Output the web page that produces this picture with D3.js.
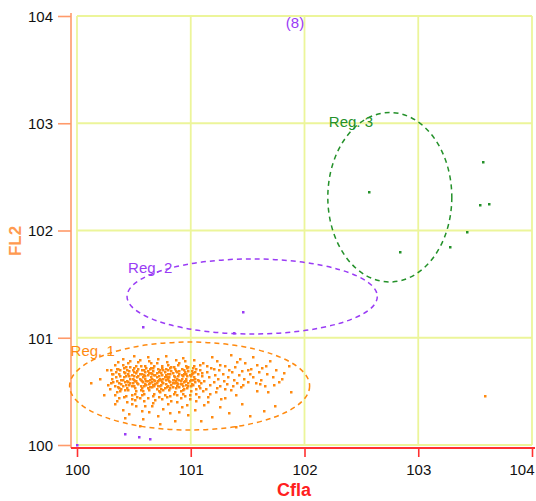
<!DOCTYPE html>
<html>
<head>
<meta charset="utf-8">
<script src="https://cdn.jsdelivr.net/npm/d3@7"></script>
<style>
  html, body { margin: 0; padding: 0; background: #fff; }
  svg { display: block; font-family: "Liberation Sans", Arial, sans-serif; }
</style>
</head>
<body>
<div id="chart"></div>
<script>
const width = 536;
const height = 501;

const tickValues = [100, 101, 102, 103, 104];
const xTitle = "Cfla";
const yTitle = "FL2";
const countLabel = "(8)";

// gates (data units): centre and radii
const regionNames = ["Reg. 1", "Reg. 2", "Reg. 3"];
const regionCx = [100.99, 101.54, 102.75];
const regionCy = [100.55, 101.385, 102.31];
const regionRx = [1.055, 1.10, 0.545];
const regionRy = [0.41, 0.35, 0.79];
const regionColors = ["#ff8a10", "#9a3cf5", "#24912a"];

// events, [Cfla, FL2]
const reg1Points = [
  [100.31,100.62],[100.33,100.55],[100.34,100.68],[100.35,100.49],[100.36,100.71],[100.37,100.58],[100.38,100.64],[100.39,100.52],[100.40,100.75],[100.40,100.61],
  [100.41,100.45],[100.42,100.67],[100.43,100.56],[100.44,100.70],[100.44,100.60],[100.45,100.51],[100.46,100.64],[100.47,100.58],[100.47,100.73],[100.48,100.47],
  [100.49,100.62],[100.50,100.55],[100.50,100.68],[100.51,100.60],[100.52,100.50],[100.52,100.74],[100.53,100.63],[100.54,100.57],[100.55,100.66],[100.55,100.44],
  [100.56,100.61],[100.57,100.53],[100.57,100.70],[100.58,100.59],[100.59,100.65],[100.59,100.48],[100.60,100.62],[100.61,100.56],[100.61,100.72],[100.62,100.60],
  [100.63,100.51],[100.63,100.67],[100.64,100.58],[100.65,100.63],[100.65,100.76],[100.66,100.54],[100.67,100.69],[100.67,100.46],[100.68,100.61],[100.69,100.57],
  [100.69,100.65],[100.70,100.52],[100.71,100.71],[100.71,100.60],[100.72,100.64],[100.73,100.55],[100.73,100.49],[100.74,100.67],[100.75,100.59],[100.75,100.74],
  [100.76,100.62],[100.77,100.53],[100.77,100.68],[100.78,100.57],[100.79,100.63],[100.79,100.45],[100.80,100.70],[100.81,100.60],[100.81,100.51],[100.82,100.66],
  [100.83,100.56],[100.83,100.73],[100.84,100.61],[100.85,100.48],[100.85,100.64],[100.86,100.58],[100.87,100.69],[100.87,100.53],[100.88,100.62],[100.89,100.75],
  [100.89,100.57],[100.90,100.66],[100.91,100.50],[100.91,100.60],[100.92,100.71],[100.93,100.55],[100.93,100.64],[100.94,100.59],[100.95,100.68],[100.95,100.46],
  [100.96,100.62],[100.97,100.53],[100.97,100.72],[100.98,100.58],[100.99,100.65],[101.00,100.61],[101.00,100.50],[101.01,100.69],[101.02,100.56],[101.03,100.63],
  [101.03,100.74],[101.04,100.59],[101.05,100.52],[101.06,100.66],[101.06,100.61],[101.07,100.55],[101.08,100.70],[101.09,100.58],[101.10,100.64],
  [100.30,100.58],[100.32,100.66],[100.35,100.60],[100.36,100.54],[100.38,100.70],[100.39,100.57],[100.41,100.63],[100.42,100.51],[100.43,100.73],[100.45,100.59],
  [100.46,100.69],[100.48,100.55],[100.48,100.65],[100.50,100.61],[100.51,100.48],[100.53,100.69],[100.53,100.58],[100.54,100.64],[100.56,100.55],[100.56,100.74],
  [100.58,100.63],[100.58,100.50],[100.60,100.68],[100.60,100.57],[100.62,100.65],[100.62,100.53],[100.64,100.71],[100.64,100.61],[100.66,100.59],[100.66,100.66],
  [100.68,100.55],[100.68,100.74],[100.70,100.63],[100.70,100.58],[100.72,100.50],[100.72,100.68],[100.74,100.61],[100.74,100.56],[100.76,100.70],[100.76,100.51],
  [100.78,100.65],[100.78,100.61],[100.80,100.55],[100.80,100.62],[100.82,100.59],[100.82,100.72],[100.84,100.54],[100.84,100.67],[100.86,100.63],[100.86,100.49],
  [100.88,100.58],[100.88,100.68],[100.90,100.61],[100.90,100.54],[100.92,100.65],[100.92,100.57],[100.94,100.70],[100.94,100.52],[100.96,100.60],[100.96,100.66],
  [100.98,100.55],[100.98,100.73],[101.00,100.64],[101.01,100.57],[101.02,100.67],[101.04,100.62],[101.05,100.71],[101.07,100.60],[101.08,100.53],[101.10,100.67],
  [100.31,100.66],[100.32,100.59],[100.34,100.63],[100.35,100.71],[100.37,100.53],[100.37,100.66],[100.39,100.61],[100.40,100.55],[100.41,100.68],[100.42,100.59],
  [100.43,100.64],[100.44,100.53],[100.45,100.66],[100.46,100.56],[100.47,100.62],[100.49,100.70],[100.49,100.58],[100.50,100.64],[100.51,100.53],[100.52,100.67],
  [100.52,100.60],[100.54,100.71],[100.55,100.62],[100.56,100.51],[100.57,100.66],[100.57,100.60],[100.59,100.55],[100.59,100.70],[100.60,100.64],[100.61,100.60],
  [100.62,100.69],[100.63,100.57],[100.64,100.54],[100.65,100.67],[100.66,100.62],[100.67,100.56],[100.67,100.72],[100.68,100.65],[100.69,100.60],[100.70,100.67],
  [100.71,100.55],[100.72,100.61],[100.73,100.70],[100.73,100.62],[100.74,100.52],[100.75,100.65],[100.76,100.58],[100.77,100.63],[100.78,100.71],[100.79,100.54],
  [100.80,100.66],[100.81,100.63],[100.82,100.53],[100.83,100.69],[100.84,100.58],[100.85,100.61],[100.86,100.71],[100.87,100.60],[100.88,100.55],[100.89,100.64],
  [100.90,100.69],[100.91,100.57],[100.92,100.62],[100.93,100.51],[100.94,100.66],[100.95,100.60],[100.96,100.56],[100.97,100.64],[100.98,100.69],[100.99,100.60],
  [101.00,100.55],[101.01,100.66],[101.02,100.61],[101.04,100.68],
  [100.27,100.56],[100.30,100.70],[100.33,100.47],[100.36,100.77],[100.38,100.50],[100.41,100.72],[100.43,100.46],[100.45,100.76],[100.48,100.43],[100.50,100.72],
  [100.53,100.45],[100.54,100.77],[100.57,100.47],[100.60,100.74],[100.62,100.44],[100.65,100.72],[100.68,100.48],[100.70,100.76],[100.72,100.45],[100.75,100.72],
  [100.77,100.47],[100.80,100.75],[100.82,100.46],[100.85,100.73],[100.88,100.47],[100.90,100.76],[100.93,100.48],[100.96,100.74],[100.99,100.47],[101.02,100.72],
  [101.05,100.48],[101.08,100.75],[101.11,100.50],[101.14,100.74],[101.17,100.48],[101.20,100.71],[101.23,100.53],[101.26,100.75],[101.30,100.52],[101.34,100.70],
  [101.37,100.55],[101.41,100.77],[101.46,100.56],[101.50,100.70],[101.61,100.57],[101.66,100.74],[101.73,100.56],[101.80,100.62],
  [100.29,100.52],[100.33,100.75],[100.37,100.44],[100.40,100.80],[100.44,100.40],[100.47,100.78],[100.51,100.42],[100.55,100.79],[100.59,100.41],[100.63,100.78],
  [100.67,100.39],[100.71,100.80],[100.75,100.43],[100.79,100.77],[100.83,100.41],[100.87,100.79],[100.91,100.44],[100.95,100.78],[100.99,100.43],[101.03,100.79],
  [101.07,100.45],[101.11,100.76],[101.05,100.41],[100.62,100.82],[100.78,100.83],[100.93,100.81],[100.50,100.83],
  [101.12,100.60],[101.13,100.52],[101.14,100.68],[101.16,100.63],[101.17,100.56],[101.18,100.72],[101.20,100.59],[101.21,100.65],[101.22,100.49],[101.24,100.62],
  [101.25,100.70],[101.26,100.55],[101.28,100.66],[101.29,100.60],[101.30,100.74],[101.32,100.57],[101.33,100.63],[101.35,100.51],[101.36,100.68],[101.38,100.61],
  [101.39,100.73],[101.41,100.58],[101.42,100.65],[101.44,100.54],[101.45,100.69],[101.47,100.62],[101.48,100.76],[101.50,100.59],[101.52,100.66],[101.53,100.71],
  [101.55,100.63],[101.57,100.58],[101.58,100.75],[101.60,100.68],[101.62,100.61],[101.63,100.72],[101.65,100.55],[101.67,100.66],[101.70,100.78],[101.72,100.63],
  [101.75,100.70],[101.78,100.59],[101.82,100.67],[101.86,100.74],[101.15,100.45],[101.27,100.43],[101.40,100.47],[101.58,100.50],[101.68,100.49],[101.23,100.78],
  [101.43,100.80],[101.55,100.82],[101.35,100.84],[101.19,100.82],
  [100.35,100.41],[100.48,100.38],[100.60,100.36],[100.69,100.42],[100.80,100.38],[100.88,100.40],[100.97,100.37],[101.15,100.40],[101.30,100.44],[100.57,100.32],
  [100.90,100.31],
  [100.33,100.38],[100.40,100.33],[100.46,100.29],[100.52,100.36],[100.58,100.24],[100.63,100.31],[100.66,100.36],[100.71,100.27],[100.76,100.34],[100.82,100.30],
  [100.86,100.22],[100.92,100.35],[100.98,100.28],[101.04,100.33],[101.12,100.37],[101.19,100.26],[101.26,100.35],[101.34,100.30],[101.45,100.38],[101.52,100.27],
  [101.64,100.32],[101.74,100.36],[100.55,100.18],[100.73,100.20],[101.09,100.22],[101.40,100.17],[100.42,100.25],
  [100.20,100.62],[100.12,100.58],[100.26,100.70],[100.24,100.47],
  [101.88,100.49],[103.59,100.46]
];
const reg2Points = [
  [101.46,101.24],[100.58,101.10],[101.38,101.04],[100.42,100.10],[100.545,100.075],[100.64,100.06],[100.0,100.0]
];
const reg3Points = [
  [103.57,102.64],[102.57,102.36],[103.54,102.24],[103.62,102.25],[103.43,101.99],[103.28,101.85],[102.84,101.80]
];

const x = d3.scaleLinear().domain([100, 104]).range([77, 532]);
const y = d3.scaleLinear().domain([100, 104]).range([445, 16]);

const svg = d3.select("#chart").append("svg")
  .attr("width", width)
  .attr("height", height)
  .attr("viewBox", [0, 0, width, height]);

svg.append("rect").attr("width", width).attr("height", height).attr("fill", "#fff");

// grid
const grid = svg.append("g").attr("stroke", "#ecf59a").attr("stroke-width", 1.8);
grid.selectAll(".gx").data(tickValues).join("line")
  .attr("x1", d => x(d)).attr("x2", d => x(d))
  .attr("y1", y(104)).attr("y2", y(100));
grid.selectAll(".gy").data(tickValues).join("line")
  .attr("y1", d => y(d)).attr("y2", d => y(d))
  .attr("x1", x(100)).attr("x2", x(104));

// y axis (orange)
const yAxis = svg.append("g")
  .attr("transform", "translate(71,0)")
  .call(d3.axisLeft(y).tickValues(tickValues).tickFormat(d3.format("d"))
    .tickSize(13).tickSizeOuter(0).tickPadding(5));
yAxis.select(".domain").remove();
yAxis.append("line").attr("x1", 0).attr("x2", 0).attr("y1", 13).attr("y2", 448)
  .attr("stroke", "#ff9a6a").attr("stroke-width", 1.6);
yAxis.selectAll(".tick line").attr("stroke", "#ff9a6a").attr("stroke-width", 1.6);
yAxis.selectAll(".tick text").attr("fill", "#111").style("font-size", "15px").attr("dy", "0.36em");

// x axis (red)
const xAxis = svg.append("g")
  .attr("transform", "translate(0,448)")
  .call(d3.axisBottom(x).tickValues(tickValues).tickFormat(d3.format("d"))
    .tickSize(9).tickSizeOuter(0).tickPadding(7));
xAxis.select(".domain").remove();
xAxis.append("line").attr("x1", 71).attr("x2", 535).attr("y1", 0).attr("y2", 0)
  .attr("stroke", "#ff3030").attr("stroke-width", 2);
xAxis.selectAll(".tick line").attr("stroke", "#ff3030").attr("stroke-width", 1.6);
xAxis.selectAll(".tick text").attr("fill", "#111").style("font-size", "15px");
// last label sits inside the window edge
xAxis.selectAll(".tick text").filter(d => d === 104)
  .attr("text-anchor", "end").attr("dx", 2);

// titles
svg.append("text")
  .attr("x", 294).attr("y", 496)
  .attr("text-anchor", "middle")
  .attr("fill", "#ff2020")
  .style("font-size", "18px").style("font-weight", "bold")
  .text(xTitle);

svg.append("text")
  .attr("transform", "translate(21,241) rotate(-90)")
  .attr("text-anchor", "middle")
  .attr("fill", "#ff9a50")
  .style("font-size", "17px").style("font-weight", "bold")
  .text(yTitle);

svg.append("text")
  .attr("x", 295).attr("y", 28)
  .attr("text-anchor", "middle")
  .attr("fill", "#9a3cf5")
  .style("font-size", "15px")
  .text(countLabel);

// gates
const regions = regionNames.map((name, i) => ({
  name, cx: regionCx[i], cy: regionCy[i], rx: regionRx[i], ry: regionRy[i], color: regionColors[i]
}));

svg.selectAll(".gate").data(regions).join("ellipse")
  .attr("cx", d => x(d.cx))
  .attr("cy", d => y(d.cy))
  .attr("rx", d => x(d.cx + d.rx) - x(d.cx))
  .attr("ry", d => y(d.cy - d.ry) - y(d.cy))
  .attr("fill", "none")
  .attr("stroke", d => d.color)
  .attr("stroke-width", 1.5)
  .attr("stroke-dasharray", "5,4");

svg.selectAll(".gate-label").data(regions).join("text")
  .attr("x", d => x(d.cx - d.rx) + 1)
  .attr("y", d => y(d.cy + d.ry) + 14)
  .attr("fill", d => d.color)
  .style("font-size", "15px")
  .text(d => d.name);

// events
const pointSets = [reg1Points, reg2Points, reg3Points];
pointSets.forEach((pts, i) => {
  svg.append("g").attr("fill", regionColors[i])
    .selectAll("rect").data(pts).join("rect")
      .attr("x", d => Math.round(x(d[0])) - 1)
      .attr("y", d => Math.round(y(d[1])) - 1)
      .attr("width", 2.5)
      .attr("height", 2.5);
});
</script>
</body>
</html>
